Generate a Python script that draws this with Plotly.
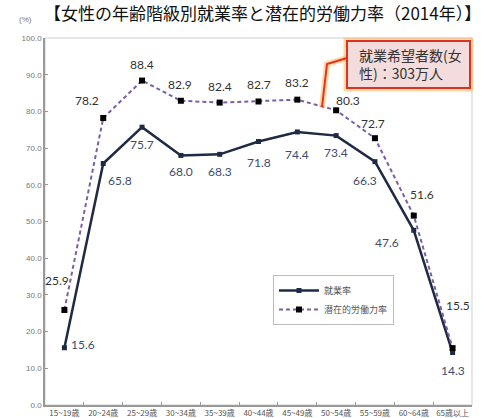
import plotly.graph_objects as go

categories = ["15~19歳", "20~24歳", "25~29歳", "30~34歳", "35~39歳", "40~44歳",
              "45~49歳", "50~54歳", "55~59歳", "60~64歳", "65歳以上"]
employment_rate = [15.6, 65.8, 75.7, 68.0, 68.3, 71.8, 74.4, 73.4, 66.3, 47.6, 14.3]
potential_rate = [25.9, 78.2, 88.4, 82.9, 82.4, 82.7, 83.2, 80.3, 72.7, 51.6, 15.5]
series_names = ["就業率", "潜在的労働力率"]
y_ticks = [0, 10, 20, 30, 40, 50, 60, 70, 80, 90, 100]

# label offsets in pixels (x, y-up)
emp_label_shift = [(19, 3), (17, -17), (0, -17), (0, -16), (0, -17), (0, -21),
                   (0, -23), (0, -17), (-10, -19), (-27, -12), (0, -18)]
pot_label_shift = [(-7, 29), (-16, 18), (0, 16), (-1, 16), (0, 16), (0, 17),
                   (0, 17), (12, 10), (-2, 15), (8, 21), (5, 43)]

EMP_COLOR = "#1f2b44"
POT_COLOR = "#7a5fa6"
LABEL_FONT = "Lato"

T, B = 38, 13
PH = 418 - T - B

fig = go.Figure()
fig.add_trace(go.Scatter(
    x=categories, y=employment_rate, name=series_names[0], mode="lines+markers",
    line=dict(color=EMP_COLOR, width=2.5),
    marker=dict(symbol="square", size=5, color=EMP_COLOR),
))
fig.add_trace(go.Scatter(
    x=categories, y=potential_rate, name=series_names[1], mode="lines+markers",
    line=dict(color=POT_COLOR, width=2, dash="4px,3px"),
    marker=dict(symbol="square", size=6, color="#000000"),
))

annotations = []
for c, v, (dx, dy) in zip(categories, employment_rate, emp_label_shift):
    annotations.append(dict(x=c, y=v, text=f"{v:.1f}", showarrow=False,
                            xshift=dx, yshift=dy,
                            font=dict(family=LABEL_FONT, size=12, color="#3e4c6e")))
for c, v, (dx, dy) in zip(categories, potential_rate, pot_label_shift):
    annotations.append(dict(x=c, y=v, text=f"{v:.1f}", showarrow=False,
                            xshift=dx, yshift=dy,
                            font=dict(family=LABEL_FONT, size=12, color="#333333")))


def px_to_paper(px, py):
    return (px - 45) / 427, (418 - B - py) / PH


# title
tx, ty = px_to_paper(262, 12)
annotations.append(dict(xref="paper", yref="paper", x=tx, y=ty,
                        text="【女性の年齢階級別就業率と潜在的労働力率（2014年）】",
                        showarrow=False, xanchor="center", yanchor="middle",
                        font=dict(family="Noto Sans CJK JP", size=17, color="#111111")))
ux, uy = px_to_paper(25, 20)
annotations.append(dict(xref="paper", yref="paper", x=ux, y=uy, text="(%)",
                        showarrow=False, xanchor="center", yanchor="middle",
                        font=dict(family="Liberation Sans", size=8, color="#777777")))
# callout text
cx, cy = px_to_paper(357, 64)
annotations.append(dict(xref="paper", yref="paper", x=cx, y=cy,
                        text="就業希望者数(女<br>性)：303万人", showarrow=False,
                        xanchor="left", yanchor="middle", align="left",
                        font=dict(family="Noto Sans CJK JP", size=14, color="#333333")))

shapes = []
# plot frame (light gray)
shapes.append(dict(type="rect", xref="paper", yref="paper", x0=0, y0=0, x1=1, y1=1,
                   line=dict(color="#cfcfcf", width=1), layer="below"))
# callout glow + box
bx0, by0 = px_to_paper(347, 88)
bx1, by1 = px_to_paper(470, 41)
shapes.append(dict(type="rect", xref="paper", yref="paper", x0=bx0, y0=by0, x1=bx1, y1=by1,
                   line=dict(color="rgba(255,170,60,0.45)", width=7), fillcolor="rgba(0,0,0,0)"))
# leader line glow + line
p1 = px_to_paper(347, 58)
p2 = px_to_paper(327, 64)
p3 = px_to_paper(322, 107)
path = f"M {p1[0]},{p1[1]} L {p2[0]},{p2[1]} L {p3[0]},{p3[1]}"
shapes.append(dict(type="path", xref="paper", yref="paper", path=path,
                   line=dict(color="rgba(255,170,60,0.45)", width=6)))
shapes.append(dict(type="path", xref="paper", yref="paper", path=path,
                   line=dict(color="#e8301c", width=2)))
shapes.append(dict(type="rect", xref="paper", yref="paper", x0=bx0, y0=by0, x1=bx1, y1=by1,
                   line=dict(color="#e0301e", width=2), fillcolor="#f3dcdb"))

lx, ly = px_to_paper(273, 275)
fig.update_layout(
    width=492, height=418,
    margin=dict(l=45, r=20, t=T, b=B),
    paper_bgcolor="white", plot_bgcolor="white",
    showlegend=True,
    legend=dict(x=lx, y=ly, xanchor="left", yanchor="top",
                bgcolor="white", bordercolor="#bbbbbb", borderwidth=1,
                font=dict(family="Noto Sans CJK JP", size=9, color="#555555"),
                tracegroupgap=6, itemwidth=40),
    annotations=annotations,
    shapes=shapes,
)
fig.update_xaxes(
    type="category", tickson="boundaries", ticks="inside", ticklen=3,
    tickcolor="#999999", showline=True, linecolor="#999999", linewidth=1.5,
    showgrid=False, automargin=False, tickangle=0,
    tickfont=dict(family="Noto Sans CJK JP", size=8, color="#555555"),
    range=[-0.5, 10.5],
)
fig.update_yaxes(
    range=[0, 100], tickvals=y_ticks, tickformat=".1f", ticks="inside", ticklen=3,
    tickcolor="#999999", showline=True, linecolor="#999999", linewidth=1.5,
    showgrid=False, zeroline=False, automargin=False,
    tickfont=dict(family="Liberation Sans", size=8, color="#777777"),
)

fig.write_html("out.html")
